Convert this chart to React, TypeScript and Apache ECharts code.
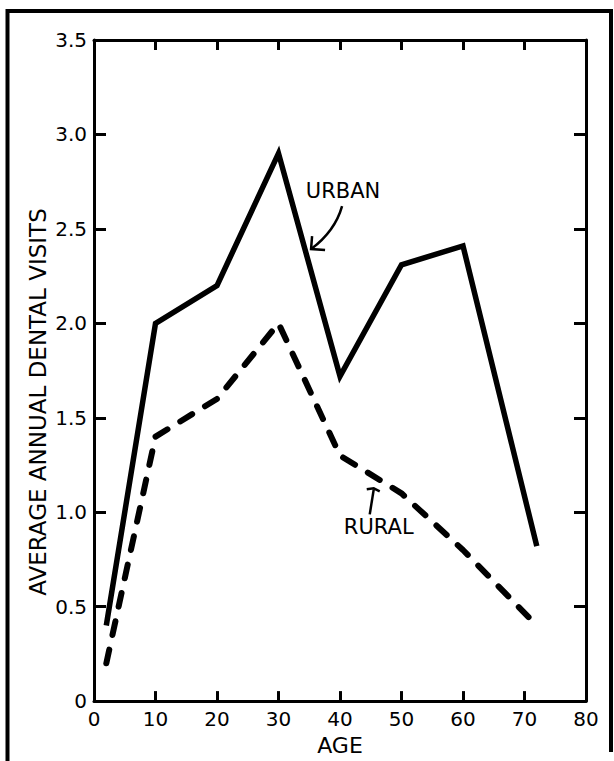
import React, { useEffect, useRef } from "react";
import * as echarts from "echarts";

const ages = [2, 10, 20, 30, 40, 50, 60, 72];
const urbanVisits = [0.4, 2.0, 2.2, 2.9, 1.72, 2.31, 2.41, 0.82];
const ruralVisits = [0.2, 1.4, 1.6, 2.0, 1.3, 1.1, 0.8, 0.4];
const xLabel = "AGE";
const yLabel = "AVERAGE ANNUAL DENTAL VISITS";
const urbanNote = { text: "URBAN", at: [40.5, 2.7] };
const ruralNote = { text: "RURAL", at: [46.3, 0.92] };

const FONT = "DejaVu Sans";

export default function App() {
  const ref = useRef<HTMLDivElement>(null);
  useEffect(() => {
    if (!ref.current) return;
    const chart = echarts.init(ref.current, null, { renderer: "svg" });
    const axisLine = { show: true, onZero: false, lineStyle: { color: "#000", width: 3 } };
    const tick = (len: number) => ({ inside: true, length: len, lineStyle: { color: "#000", width: 3 } });
    const label = { color: "#000", fontFamily: FONT, fontSize: 20 };
    const option: any = {
      animation: false,
      backgroundColor: "#fff",
      grid: { left: 94, right: 28, top: 40, bottom: 56, containLabel: false },
      xAxis: [
        {
          type: "value", min: 0, max: 80, interval: 10, position: "bottom",
          axisLine, axisTick: tick(10), splitLine: { show: false },
          axisLabel: { ...label, margin: 8 },
          name: xLabel, nameLocation: "middle", nameGap: 32,
          nameTextStyle: { color: "#000", fontFamily: FONT, fontSize: 22 },
        },
        {
          type: "value", min: 0, max: 80, interval: 10, position: "top",
          axisLine, axisTick: tick(10), splitLine: { show: false },
          axisLabel: { show: false },
        },
      ],
      yAxis: [
        {
          type: "value", min: 0, max: 3.5, interval: 0.5, position: "left",
          axisLine, axisTick: tick(12), splitLine: { show: false },
          axisLabel: { ...label, margin: 7, formatter: (v: number) => (v === 0 ? "0" : v.toFixed(1)) },
        },
        {
          type: "value", min: 0, max: 3.5, interval: 0.5, position: "right",
          axisLine, axisTick: tick(12), splitLine: { show: false },
          axisLabel: { show: false },
        },
      ],
      series: [
        {
          name: "Urban", type: "line", xAxisIndex: 0, yAxisIndex: 0,
          data: ages.map((a, i) => [a, urbanVisits[i]]),
          showSymbol: false, symbol: "none",
          lineStyle: { color: "#000", width: 5.5, join: "miter" },
        },
        {
          name: "Rural", type: "line", xAxisIndex: 0, yAxisIndex: 0,
          data: ages.map((a, i) => [a, ruralVisits[i]]),
          showSymbol: false, symbol: "none",
          lineStyle: { color: "#000", width: 6, type: [14, 15], cap: "round", join: "round" },
        },
      ],
    };
    chart.setOption(option);

    const u = chart.convertToPixel({ gridIndex: 0 }, urbanNote.at) as number[];
    const r = chart.convertToPixel({ gridIndex: 0 }, ruralNote.at) as number[];
    const ux = u[0], uy = u[1];
    const rx = r[0], ry = r[1];
    const textStyle = { fill: "#000", fontFamily: FONT, fontSize: 21, align: "center", verticalAlign: "middle" };
    chart.setOption({
      graphic: [
        {
          type: "polyline", silent: true,
          shape: { points: [[7.5, 761], [7.5, 11], [611, 11], [611, 752]] },
          style: { stroke: "#000", lineWidth: 4, fill: null },
        },
        {
          type: "text", x: 38, y: 402, rotation: Math.PI / 2,
          style: { text: yLabel, ...textStyle, fontSize: 23 },
        },
        { type: "text", x: ux, y: uy, style: { text: urbanNote.text, ...textStyle } },
        {
          type: "bezierCurve",
          shape: { x1: ux - 1, y1: uy + 15, cpx1: ux - 8, cpy1: uy + 40, x2: ux - 32, y2: uy + 58 },
          style: { stroke: "#000", lineWidth: 2.5, fill: null },
        },
        {
          type: "polyline",
          shape: { points: [[ux - 31, uy + 45], [ux - 32, uy + 58], [ux - 18, uy + 59]] },
          style: { stroke: "#000", lineWidth: 2.5, fill: null },
        },
        { type: "text", x: rx, y: ry, style: { text: ruralNote.text, ...textStyle } },
        {
          type: "line",
          shape: { x1: rx - 9, y1: ry - 13, x2: rx - 5, y2: ry - 38 },
          style: { stroke: "#000", lineWidth: 2.5 },
        },
        {
          type: "polyline",
          shape: { points: [[rx - 12, ry - 38], [rx - 5, ry - 39], [rx + 1, ry - 36]] },
          style: { stroke: "#000", lineWidth: 2.5, fill: null },
        },
      ],
    });
    return () => chart.dispose();
  }, []);
  return (
    <div
      ref={ref}
      style={{ position: "fixed", left: 0, top: 0, width: 614, height: 761, background: "#fff" }}
    />
  );
}
